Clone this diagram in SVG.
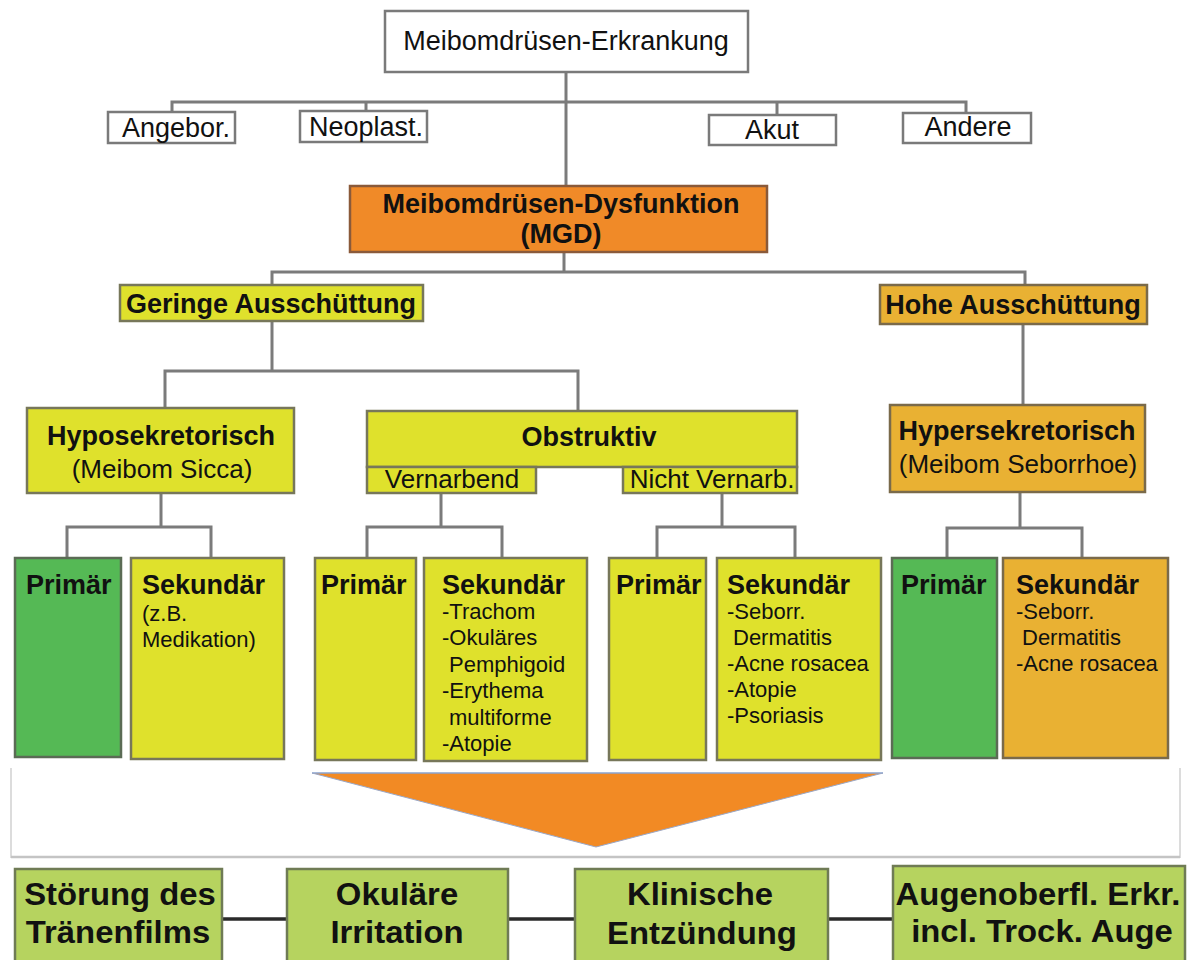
<svg xmlns="http://www.w3.org/2000/svg" width="1187" height="960" viewBox="0 0 1187 960">
<style>
text{font-family:"Liberation Sans",Arial,Helvetica,sans-serif;fill:#111;}
.b{font-weight:bold;}
.c{text-anchor:middle;}
.wb{fill:#fff;stroke:#7a7a7a;stroke-width:2.5;}
.yl{fill:#dfe12c;stroke:#77775a;stroke-width:2.5;}
.gr{fill:#55b955;stroke:#5b6b55;stroke-width:2.5;}
.or{fill:#f08a28;stroke:#8a5a3a;stroke-width:2.5;}
.am{fill:#e9b133;stroke:#7a6a4a;stroke-width:2.5;}
.lg{fill:#b6d35f;stroke:#6f7b55;stroke-width:2.5;}
.ln{fill:none;stroke:#7b7b7b;stroke-width:3;}
.dk{fill:none;stroke:#2a2a2a;stroke-width:3.5;}
.f26{font-size:26px;}
.f27r{font-size:27px;}
.f27{font-size:27px;}
.f22{font-size:22px;}
.f31{font-size:31px;}
</style>
<rect width="1187" height="960" fill="#ffffff"/>
<g id="panel">
<path d="M11,768 L11,857 L1180,857 L1180,768" fill="none" stroke="#dcdcdc" stroke-width="2"/>
<line x1="11" y1="857" x2="1180" y2="857" stroke="#c4c4c4" stroke-width="2.5"/>
</g>
<g id="connectors">
<path class="ln" d="M566,72 V186"/>
<path class="ln" d="M172,112 V102 H966 V113"/>
<path class="ln" d="M366,102 V111"/>
<path class="ln" d="M777,102 V115"/>
<path class="ln" d="M564,252 V272"/>
<path class="ln" d="M272,285 V272 H1025 V285"/>
<path class="ln" d="M272,321 V371"/>
<path class="ln" d="M165,408 V371 H578 V411"/>
<path class="ln" d="M1023,324 V405"/>
<path class="ln" d="M161,493 V527"/>
<path class="ln" d="M67,558 V527 H211 V558"/>
<path class="ln" d="M441,493 V527"/>
<path class="ln" d="M367,558 V527 H502 V558"/>
<path class="ln" d="M722,493 V527"/>
<path class="ln" d="M657,558 V527 H795 V558"/>
<path class="ln" d="M1020,492 V528"/>
<path class="ln" d="M947,558 V528 H1082 V558"/>
<path class="dk" d="M222,919 H287"/>
<path class="dk" d="M508,919 H575"/>
<path class="dk" d="M828,919 H893"/>
</g>
<g id="n-top">
<rect class="wb" x="385" y="11" width="363" height="61"/>
<text class="c f27r" x="566" y="50">Meibomdrüsen-Erkrankung</text>
</g>
<g id="n-angebor">
<rect class="wb" x="108" y="112" width="127" height="31"/>
<text class="c f27r" x="176" y="137">Angebor.</text>
</g>
<g id="n-neoplast">
<rect class="wb" x="300" y="111" width="127" height="31"/>
<text class="c f27r" x="366" y="136">Neoplast.</text>
</g>
<g id="n-akut">
<rect class="wb" x="709" y="115" width="127" height="30"/>
<text class="c f27r" x="772" y="139">Akut</text>
</g>
<g id="n-andere">
<rect class="wb" x="903" y="113" width="128" height="30"/>
<text class="c f27r" x="968" y="136">Andere</text>
</g>
<g id="n-mgd">
<rect class="or" x="350" y="186" width="417" height="66"/>
<text class="c b f27" x="561" y="213">Meibomdrüsen-Dysfunktion</text>
<text class="c b f27" x="561" y="243">(MGD)</text>
</g>
<g id="n-gering">
<rect class="yl" x="120" y="285" width="303" height="36"/>
<text class="c b f27" x="271" y="313">Geringe Ausschüttung</text>
</g>
<g id="n-hoch">
<rect class="am" x="880" y="285" width="267" height="39"/>
<text class="c b f27" x="1013" y="314">Hohe Ausschüttung</text>
</g>
<g id="n-hypo">
<rect class="yl" x="27" y="408" width="267" height="85"/>
<text class="c b f27" x="161" y="445">Hyposekretorisch</text>
<text class="c f26" x="162" y="478">(Meibom Sicca)</text>
</g>
<g id="n-obstr">
<rect class="yl" x="367" y="411" width="430" height="56"/>
<text class="c b f27" x="589" y="446">Obstruktiv</text>
</g>
<g id="n-vernarb">
<rect class="yl" x="367" y="467" width="169" height="26"/>
<text class="c f26" x="452" y="488">Vernarbend</text>
</g>
<g id="n-nichtvernarb">
<rect class="yl" x="623" y="467" width="174" height="26"/>
<text class="c f26" x="712" y="488">Nicht Vernarb.</text>
</g>
<g id="n-hyper">
<rect class="am" x="890" y="405" width="255" height="87"/>
<text class="c b f27" x="1017" y="440">Hypersekretorisch</text>
<text class="c f26" x="1018" y="473">(Meibom Seborrhoe)</text>
</g>
<g id="n-g1-prim">
<rect class="gr" x="15" y="558" width="106" height="199"/>
<text class="b f27" x="26" y="594">Primär</text>
</g>
<g id="n-g1-sek">
<rect class="yl" x="131" y="558" width="153" height="201"/>
<text class="b f27" x="142" y="594">Sekundär</text>
<text class="f22" x="142" y="621">(z.B.</text>
<text class="f22" x="142" y="647">Medikation)</text>
</g>
<g id="n-g2-prim">
<rect class="yl" x="315" y="558" width="101" height="202"/>
<text class="b f27" x="321" y="594">Primär</text>
</g>
<g id="n-g2-sek">
<rect class="yl" x="424" y="558" width="163" height="203"/>
<text class="b f27" x="442" y="594">Sekundär</text>
<text class="f22" x="442" y="619">-Trachom</text>
<text class="f22" x="442" y="645">-Okuläres</text>
<text class="f22" x="449" y="672">Pemphigoid</text>
<text class="f22" x="442" y="698">-Erythema</text>
<text class="f22" x="449" y="725">multiforme</text>
<text class="f22" x="442" y="751">-Atopie</text>
</g>
<g id="n-g3-prim">
<rect class="yl" x="609" y="558" width="97" height="202"/>
<text class="b f27" x="616" y="594">Primär</text>
</g>
<g id="n-g3-sek">
<rect class="yl" x="717" y="558" width="164" height="202"/>
<text class="b f27" x="727" y="594">Sekundär</text>
<text class="f22" x="727" y="619">-Seborr.</text>
<text class="f22" x="733" y="645">Dermatitis</text>
<text class="f22" x="727" y="671">-Acne rosacea</text>
<text class="f22" x="727" y="697">-Atopie</text>
<text class="f22" x="727" y="723">-Psoriasis</text>
</g>
<g id="n-g4-prim">
<rect class="gr" x="892" y="558" width="105" height="200"/>
<text class="b f27" x="901" y="594">Primär</text>
</g>
<g id="n-g4-sek">
<rect class="am" x="1003" y="558" width="165" height="200"/>
<text class="b f27" x="1016" y="594">Sekundär</text>
<text class="f22" x="1016" y="619">-Seborr.</text>
<text class="f22" x="1022" y="645">Dermatitis</text>
<text class="f22" x="1016" y="671">-Acne rosacea</text>
</g>
<g id="arrow">
<polygon points="312,773 883,773 596,847" fill="#f28a24"/>
<line x1="312" y1="773" x2="883" y2="773" stroke="#8aa3cf" stroke-width="1.5"/>
<line x1="312" y1="773" x2="596" y2="847" stroke="#9aa8c8" stroke-width="1"/>
<line x1="883" y1="773" x2="596" y2="847" stroke="#9aa8c8" stroke-width="1"/>
</g>
<g id="n-stoerung">
<rect class="lg" x="15" y="869" width="207" height="100"/>
<text class="c b f31" transform="translate(120,905) scale(1.06,1)">Störung des</text>
<text class="c b f31" transform="translate(118,943) scale(1.06,1)">Tränenfilms</text>
</g>
<g id="n-okular">
<rect class="lg" x="287" y="869" width="221" height="100"/>
<text class="c b f31" transform="translate(397,905) scale(1.06,1)">Okuläre</text>
<text class="c b f31" transform="translate(397,943) scale(1.06,1)">Irritation</text>
</g>
<g id="n-klin">
<rect class="lg" x="575" y="869" width="253" height="100"/>
<text class="c b f31" transform="translate(700,905) scale(1.06,1)">Klinische</text>
<text class="c b f31" transform="translate(702,944) scale(1.06,1)">Entzündung</text>
</g>
<g id="n-augen">
<rect class="lg" x="893" y="866" width="292" height="103"/>
<text class="c b f31" transform="translate(1038,905) scale(1.06,1)">Augenoberfl. Erkr.</text>
<text class="c b f31" transform="translate(1042,942) scale(1.06,1)">incl. Trock. Auge</text>
</g>
</svg>
